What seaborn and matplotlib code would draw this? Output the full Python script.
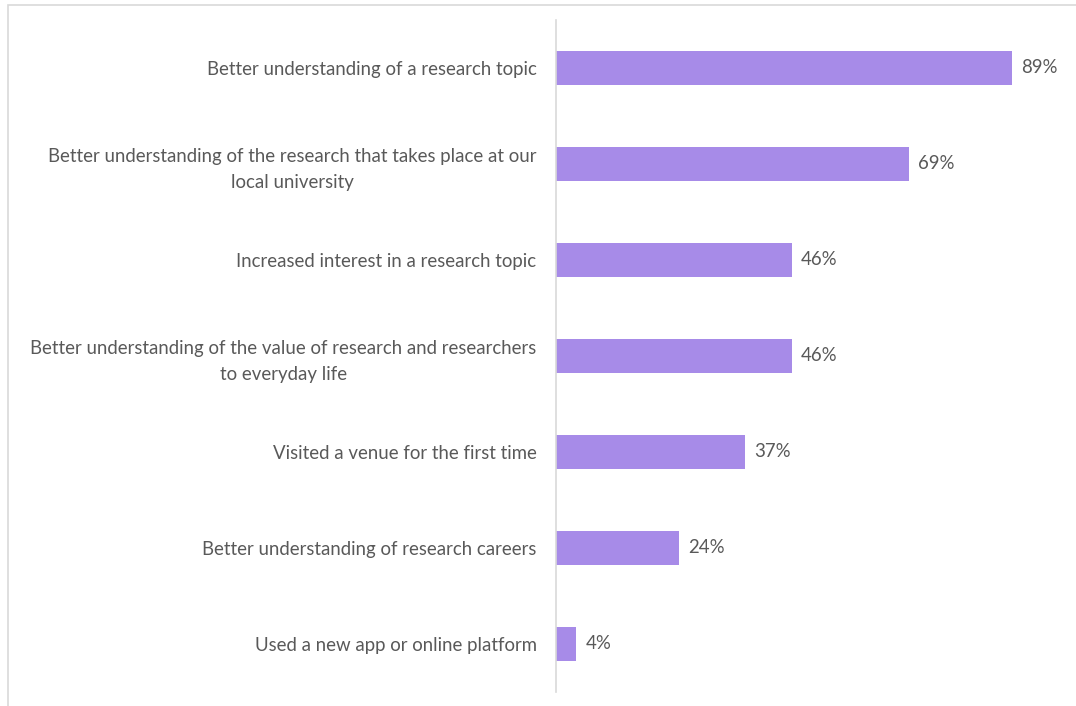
import matplotlib
matplotlib.use("Agg")
import matplotlib.pyplot as plt
import seaborn as sns
import pandas as pd
from matplotlib.patches import Rectangle

categories = [
    "Better understanding of a research topic",
    "Better understanding of the research that takes place at our\nlocal university",
    "Increased interest in a research topic",
    "Better understanding of the value of research and researchers\nto everyday life",
    "Visited a venue for the first time",
    "Better understanding of research careers",
    "Used a new app or online platform",
]
percentages = [89, 69, 46, 46, 37, 24, 4]

sns.set_theme(style="white")
plt.rcParams["font.family"] = ["Lato", "DejaVu Sans"]

text_color = "#595959"
bar_color = "#a78be8"
font_size = 13.4

df = pd.DataFrame({"outcome": categories, "pct": percentages})

fig = plt.figure(figsize=(10.76, 7.06), dpi=100)
ax = fig.add_axes([556 / 1076, 1 - 691.5 / 706, (1068 - 556) / 1076, (691.5 - 20) / 706])

sns.barplot(data=df, x="pct", y="outcome", orient="h", color=bar_color,
            saturation=1, width=0.355, ax=ax)

ax.set_xlim(0, 100)
ax.set_ylim(6.5, -0.5)
ax.set_xlabel("")
ax.set_ylabel("")
ax.set_xticks([])
ax.tick_params(axis="y", length=0, pad=14, labelsize=font_size, labelcolor=text_color)
for lbl in ax.get_yticklabels():
    lbl.set_horizontalalignment("right")
    lbl.set_multialignment("center")
    lbl.set_linespacing(1.6)

for side in ["top", "right", "bottom"]:
    ax.spines[side].set_visible(False)
ax.spines["left"].set_color("#d9d9d9")
ax.spines["left"].set_linewidth(1.2)

for patch in ax.patches:
    patch.set_edgecolor("none")

for i, v in enumerate(percentages):
    ax.annotate(f"{v}%", xy=(v, i), xytext=(6.5, 0), textcoords="offset points",
                va="center", ha="left", fontsize=font_size, color=text_color)

# thin frame around the chart area
fig.patches.append(Rectangle((8 / 1076, -0.05), 1.2, 1 - 5 / 706 + 0.05,
                             transform=fig.transFigure, fill=False,
                             edgecolor="#d9d9d9", linewidth=1.2))

fig.savefig("out.png", dpi=100)
